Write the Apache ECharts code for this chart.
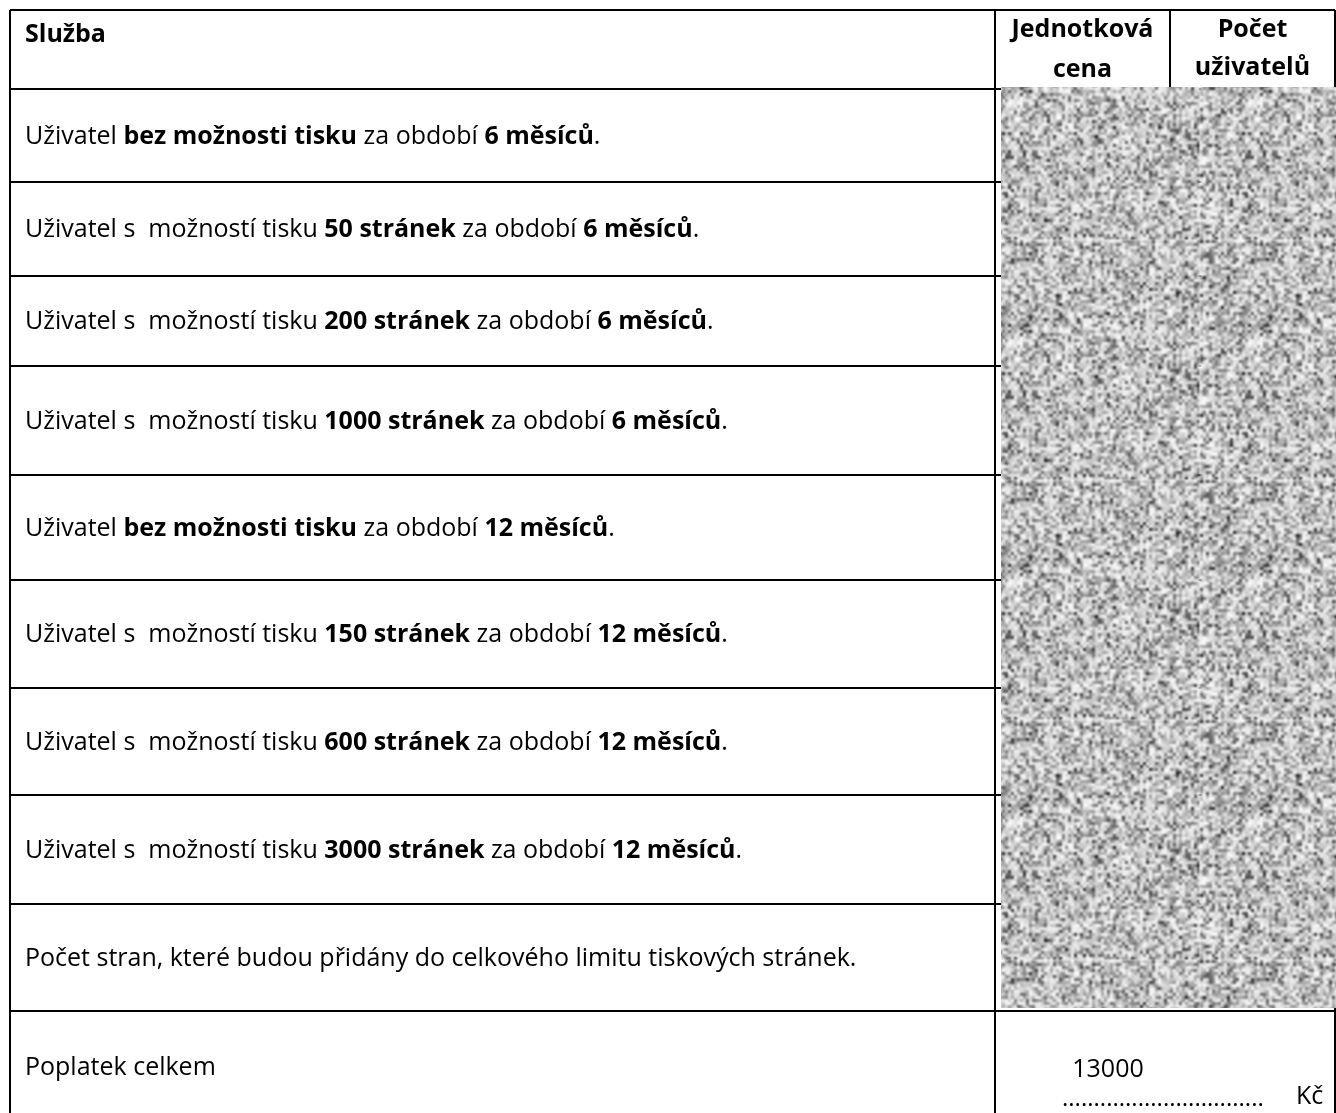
<!DOCTYPE html>
<html>
<head>
<meta charset="utf-8">
<style>html,body{margin:0;padding:0;background:#fff}#c{width:1336px;height:1113px}</style>
<script src="https://cdn.jsdelivr.net/npm/echarts@6/dist/echarts.min.js"></script>
</head>
<body>
<div id="c"></div>
<script>
// ---- data ----
const headers = ['Služba', 'Jednotková\ncena', 'Počet\nuživatelů'];
const printOptions = ['bez možnosti tisku', '50 stránek', '200 stránek', '1000 stránek',
                      'bez možnosti tisku', '150 stránek', '600 stránek', '3000 stránek'];
const periods = ['6 měsíců', '6 měsíců', '6 měsíců', '6 měsíců',
                 '12 měsíců', '12 měsíců', '12 měsíců', '12 měsíců'];
const extraRowLabel = 'Počet stran, které budou přidány do celkového limitu tiskových stránek.';
const totalLabel = 'Poplatek celkem';
const totalValue = 13000;
const currency = 'Kč';

// ---- layout (pixels of the chart's value axes) ----
const colEdges = [10, 995, 1170, 1335];
const rowEdges = [10, 89, 182, 276, 366, 475, 580, 688, 795, 904, 1011, 1113];
const FONT = '"Open Sans", "Noto Sans", sans-serif';
const FS = 25;

function serviceText(i) {
  const p = printOptions[i];
  if (p.indexOf('bez') === 0) return 'Uživatel {b|' + p + '} za období {b|' + periods[i] + '}.';
  return 'Uživatel s  možností tisku {b|' + p + '} za období {b|' + periods[i] + '}.';
}
const rows = [];
rows.push({ kind: 'header' });
for (let i = 0; i < printOptions.length; i++) rows.push({ kind: 'service', text: serviceText(i) });
rows.push({ kind: 'extra', text: extraRowLabel });
rows.push({ kind: 'total', text: totalLabel });

// ---- redaction texture (deterministic hash, purely decorative) ----
function hash(x, y) {
  let n = Math.imul(x, 374761393) + Math.imul(y, 668265263);
  n = Math.imul(n ^ (n >>> 13), 1274126177);
  n = n ^ (n >>> 16);
  return (n >>> 0) / 4294967296;
}
function makeTexture() {
  const S = 240, cell = 3;
  const raw = document.createElement('canvas');
  raw.width = S; raw.height = S;
  const rc = raw.getContext('2d');
  for (let y = 0; y < S / cell; y++) {
    for (let x = 0; x < S / cell; x++) {
      const h = hash(x, y);
      const v = Math.round(255 * Math.pow(h, 0.38));
      rc.fillStyle = 'rgb(' + v + ',' + v + ',' + v + ')';
      rc.fillRect(x * cell, y * cell, cell, cell);
    }
  }
  const out = document.createElement('canvas');
  out.width = S; out.height = S;
  const oc = out.getContext('2d');
  oc.filter = 'blur(0.8px)';
  for (let dx = -1; dx <= 1; dx++) for (let dy = -1; dy <= 1; dy++) oc.drawImage(raw, dx * S, dy * S);
  return out;
}
const texture = makeTexture();

const chart = echarts.init(document.getElementById('c'), null, { renderer: 'canvas' });
const LW = 2;

function line(api, x1, y1, x2, y2) {
  const a = api.coord([x1, y1]), b = api.coord([x2, y2]);
  return { type: 'line', shape: { x1: a[0], y1: a[1], x2: b[0], y2: b[1] },
           style: { stroke: '#000', lineWidth: LW } };
}
function txt(api, x, y, text, opt) {
  const p = api.coord([x, y]);
  return { type: 'text', x: p[0], y: p[1], style: Object.assign({
    text: text, fill: '#000', font: FS + 'px ' + FONT, align: 'left', verticalAlign: 'middle',
    rich: { b: { fontWeight: 'bold', fontFamily: FONT, fontSize: FS, fill: '#000' } }
  }, opt || {}) };
}

chart.setOption({
  animation: false,
  grid: { left: 0, right: 0, top: 0, bottom: 0 },
  xAxis: { type: 'value', min: 0, max: 1336, show: false },
  yAxis: { type: 'value', min: 0, max: 1113, inverse: true, show: false },
  series: [
    {
      type: 'custom',
      coordinateSystem: 'cartesian2d',
      data: rows.map((r, i) => [i]),
      renderItem: function (params, api) {
        const i = api.value(0);
        const r = rows[i];
        const top = rowEdges[i], bot = rowEdges[i + 1];
        const mid = (top + bot) / 2;
        const ch = [];
        ch.push(line(api, colEdges[0], top, colEdges[3], top));
        ch.push(line(api, colEdges[0], top, colEdges[0], bot));
        ch.push(line(api, colEdges[1], top, colEdges[1], bot));
        ch.push(line(api, colEdges[3], top, colEdges[3], bot));
        if (r.kind === 'header') {
          ch.push(line(api, colEdges[2], top, colEdges[2], bot));
          ch.push(txt(api, 25, 35, headers[0], { font: 'bold ' + FS + 'px ' + FONT }));
          ch.push(txt(api, (colEdges[1] + colEdges[2]) / 2, 50, headers[1],
            { font: 'bold ' + FS + 'px ' + FONT, align: 'center', lineHeight: 40 }));
          ch.push(txt(api, (colEdges[2] + colEdges[3]) / 2, 49, headers[2],
            { font: 'bold ' + FS + 'px ' + FONT, align: 'center', lineHeight: 38 }));
        } else if (r.kind === 'total') {
          ch.push(txt(api, 25, 1068, r.text));
          ch.push(txt(api, 1108, 1070, String(totalValue), { align: 'center' }));
          ch.push(txt(api, 1062, 1099, '................................', { align: 'left', font: '24px ' + FONT }));
          ch.push(txt(api, 1296, 1097, currency, { align: 'left' }));
        } else {
          ch.push(txt(api, 25, mid + 1, r.text));
        }
        return { type: 'group', children: ch };
      }
    },
    {
      type: 'custom',
      coordinateSystem: 'cartesian2d',
      data: [[0]],
      z: 5,
      renderItem: function (params, api) {
        const a = api.coord([colEdges[1] + 6, rowEdges[1] - 2]);
        const b = api.coord([colEdges[3] + 1, rowEdges[10] - 3]);
        return { type: 'rect', shape: { x: a[0], y: a[1], width: b[0] - a[0], height: b[1] - a[1] },
                 style: { fill: { image: texture, repeat: 'repeat' } } };
      }
    }
  ]
});
</script>
</body>
</html>
